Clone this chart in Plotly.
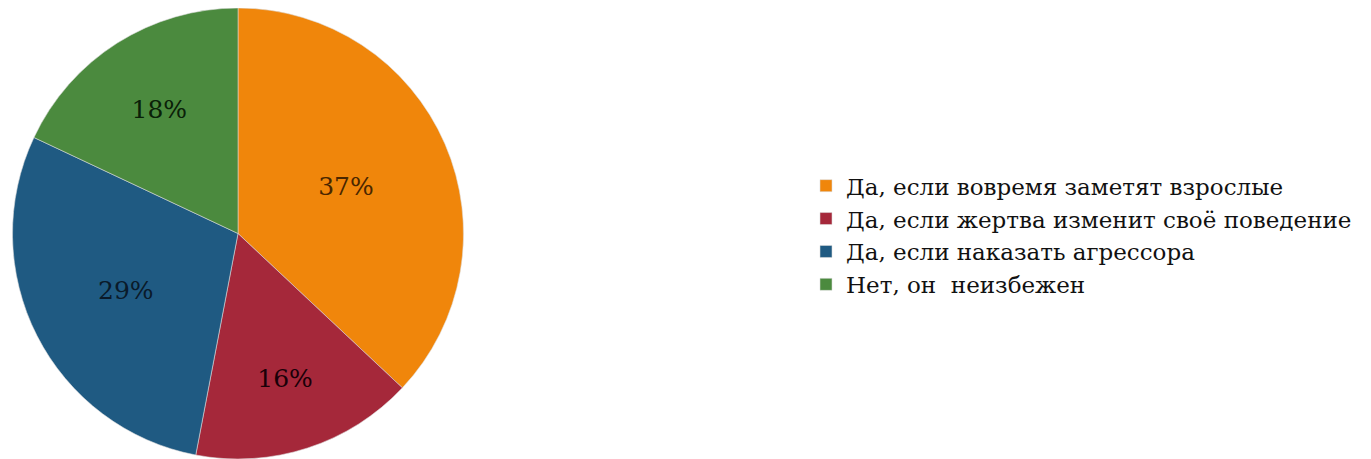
import plotly.graph_objects as go

labels = ["Да, если вовремя заметят взрослые",
          "Да, если жертва изменит своё поведение",
          "Да, если наказать агрессора",
          "Нет, он  неизбежен"]
values = [37, 16, 29, 18]
colors = ["#F0860B", "#A5283A", "#1F5A82", "#4B8A3E"]
text_colors = ["#4a2600", "#1a0008", "#0a1a2a", "#0a2008"]

W, H = 1371, 459
OFF = 8  # page body margin

fig = go.Figure(go.Pie(
    labels=labels,
    values=values,
    sort=False,
    direction="clockwise",
    rotation=0,
    marker=dict(colors=colors, line=dict(color="rgba(220,220,220,0.8)", width=0.7)),
    texttemplate="%{value}%",
    textposition="inside",
    insidetextorientation="horizontal",
    insidetextfont=dict(family="DejaVu Serif", size=25, color=text_colors),
    domain=dict(x=[(12.5 - OFF) / W, (463.5 - OFF) / W], y=[OFF / H, 1]),
    hoverinfo="label+percent",
))

fig.update_layout(
    width=W, height=H,
    margin=dict(l=0, r=0, t=0, b=0),
    paper_bgcolor="white",
    plot_bgcolor="white",
    showlegend=True,
    legend=dict(
        x=798 / W, y=0.505, xanchor="left", yanchor="middle",
        font=dict(family="DejaVu Serif", size=23, color="#111111"),
        itemwidth=30, tracegroupgap=0,
    ),
)

fig.write_html("out.html")
